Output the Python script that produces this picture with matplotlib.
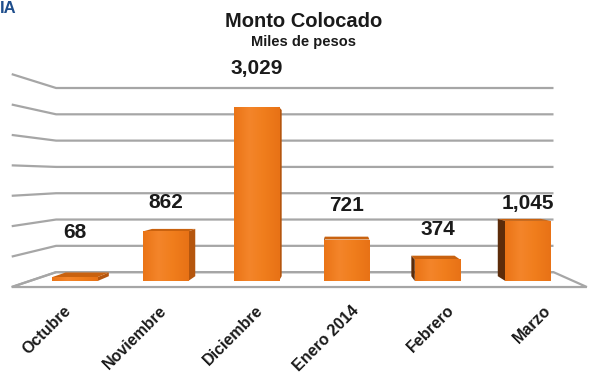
import numpy as np
import matplotlib
matplotlib.use('Agg')
import matplotlib.pyplot as plt
from matplotlib.patches import Polygon
from matplotlib.colors import LinearSegmentedColormap

plt.rcParams['font.family'] = ['Liberation Sans', 'DejaVu Sans']

# datos
meses = ['Octubre', 'Noviembre', 'Diciembre', 'Enero 2014', 'Febrero', 'Marzo']
monto = [68, 862, 3029, 721, 374, 1045]
etiquetas = ['68', '862', '3,029', '721', '374', '1,045']
grid_vals = [0, 500, 1000, 1500, 2000, 2500, 3000, 3500]

# desplazamiento vertical de las etiquetas (unidades de datos)
label_off = [775, 495, 675, 592, 513, 294]

# perspectiva falsa: punto de fuga y profundidades
vx, vy = 2.925, 1809
r_back = 0.915    # pared del fondo
r_front = 1.058   # borde frontal del piso
r_bar = 0.954     # cara trasera de las barras
w = 0.5

naranja_osc = '#B5560E'
cafe = '#5C2C0A'
gris = '#A6A6A6'
grad = LinearSegmentedColormap.from_list('g', ['#EA7416', '#F4852A', '#F07D1C', '#E87216'])


def proj(x, y, r):
    return vx + r * (x - vx), vy + r * (y - vy)


fig = plt.figure(figsize=(5.9, 3.77), dpi=100)
ax = fig.add_axes([0, 0, 1, 1])
ax.axis('off')

x0, x1 = -0.5, len(meses) - 0.5

# piso
piso = [proj(x0, 0, r_back), proj(x1, 0, r_back), proj(x1, 0, r_front), proj(x0, 0, r_front)]
ax.add_patch(Polygon(piso, closed=True, fc='white', ec=gris, lw=1.6, zorder=1))

# lineas de la pared del fondo y pared izquierda
for g in grid_vals:
    bx0, by0 = proj(x0, g, r_back)
    bx1, by1 = proj(x1, g, r_back)
    fx0, fy0 = proj(x0, g, r_front)
    ax.plot([fx0, bx0, bx1], [fy0, by0, by1], color=gris, lw=1.6, zorder=1,
            solid_capstyle='butt')

# barras
xs = np.arange(len(meses))
for i, v in enumerate(monto):
    l, r = i - w / 2, i + w / 2
    # cara lateral
    if i < vx:
        side = [(r, 0), (r, v), proj(r, v, r_bar), proj(r, 0, r_bar)]
        col = naranja_osc
    else:
        side = [(l, 0), (l, v), proj(l, v, r_bar), proj(l, 0, r_bar)]
        col = cafe
    ax.add_patch(Polygon(side, closed=True, fc=col, ec='none', zorder=2))
    # cara superior
    if v < vy:
        top = [(l, v), (r, v), proj(r, v, r_bar), proj(l, v, r_bar)]
        ax.add_patch(Polygon(top, closed=True, fc='#C9620F', ec='none', zorder=2))

bars = ax.bar(xs, monto, width=w, color='#F07D1C', zorder=3)
gx = np.linspace(0, 1, 64).reshape(1, -1)
for b in bars:
    im = ax.imshow(gx, cmap=grad, aspect='auto', zorder=3.5,
                   extent=[b.get_x(), b.get_x() + b.get_width(), 0, b.get_height()])
    im.set_clip_path(b)
ax.set_xlim(-0.828, 5.684)
ax.set_ylim(-1670, 4887)

# etiquetas de datos
for i, v in enumerate(monto):
    ax.text(i, v + label_off[i], etiquetas[i], ha='center', va='center',
            fontsize=15, fontweight='bold', color='#1a1a1a', zorder=4)

# etiquetas del eje
for i, m in enumerate(meses):
    tx, _ = proj(i, 0, r_front)
    ax.text(tx + 0.1, -470, m, rotation=45, rotation_mode='anchor',
            ha='right', va='center', fontsize=11.5, fontweight='bold', color='#1a1a1a')

# titulos
fig.text(0.515, 0.928, 'Monto Colocado', ha='center', va='baseline',
         fontsize=14.5, fontweight='bold', color='#1a1a1a')
fig.text(0.514, 0.877, 'Miles de pesos', ha='center', va='baseline',
         fontsize=10.5, fontweight='bold', color='#1a1a1a')
fig.text(0.0, 0.966, 'IA', ha='left', va='baseline',
         fontsize=12, fontweight='bold', color='#1F4E8C')

fig.savefig('out.png', dpi=100)
